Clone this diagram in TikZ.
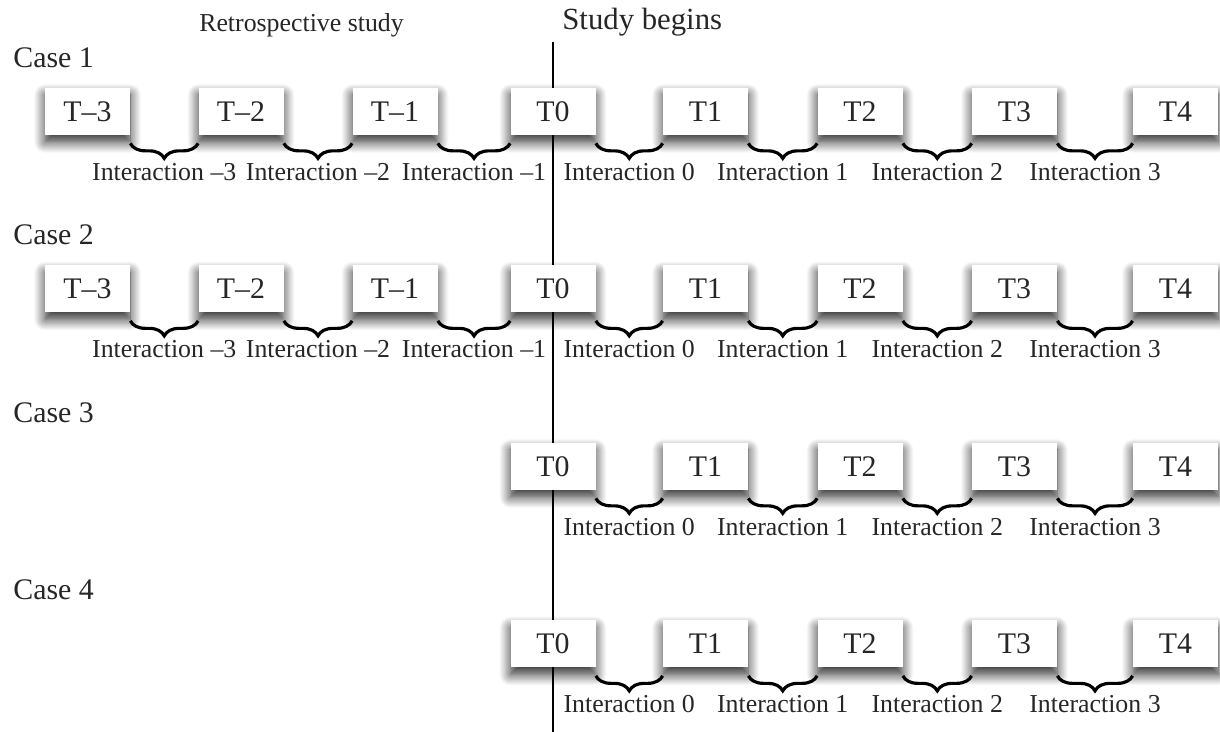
\documentclass[tikz,border=0pt]{standalone}
\usepackage{fontspec}
\setmainfont{Liberation Serif}
\usetikzlibrary{decorations.pathreplacing, shadows.blur}

\tikzset{
    tbox/.style={fill=white, minimum width=1.7cm, minimum height=0.94cm, inner sep=0pt,
        font=\fontsize{17}{20}\selectfont,
        blur shadow={shadow xshift=0pt, shadow yshift=-0.14cm, shadow blur radius=0.22cm, shadow opacity=85, shadow blur steps=12}},
    caselabel/.style={anchor=west, inner sep=0pt, font=\fontsize{17}{20}\selectfont},
    interlabel/.style={below, inner sep=0pt, yshift=-0.36cm, font=\fontsize{14.7}{17}\selectfont},
    gap brace/.style={decorate, decoration={brace, amplitude=0.3cm, mirror}, line width=1.8pt}
}

\begin{document}
\begin{tikzpicture}[text=black!85]
\useasboundingbox (0,0) rectangle (24.4,14.64);

% Headings
\node[anchor=west, inner sep=0pt, font=\fontsize{17.5}{20}\selectfont] (begins) at (11.24,14.2) {Study begins};
\node[inner sep=0pt, font=\fontsize{14.7}{17}\selectfont] (retro) at (6.03,14.14) {Retrospective study};

% Start of the study
\coordinate (linetop) at (11.06,13.8);
\coordinate (linebot) at (11.06,0);
\draw[line width=1.1pt] (linetop) -- (linebot);

% Cases: time points and interactions
\foreach \r/\y/\first in {1/12.41/1, 2/8.86/1, 3/5.31/4, 4/1.76/4} {
    \node[caselabel] (case\r) at (0.26,\y+1.08) {Case \r};
    \foreach \k/\x/\lab in {1/1.75/T–3, 2/4.82/T–2, 3/7.9/T–1, 4/11.06/T0,
                            5/14.11/T1, 6/17.2/T2, 7/20.29/T3, 8/23.51/T4} {
        \ifnum\k<\first\else
            \node[tbox] (b\r\k) at (\x,\y) {\lab};
        \fi
    }
    \foreach \k/\lab in {1/–3, 2/–2, 3/–1, 4/0, 5/1, 6/2, 7/3} {
        \ifnum\k<\first\else
            \pgfmathtruncatemacro{\nk}{\k+1}
            \draw[gap brace] ([yshift=-0.16cm]b\r\k.south east) -- node[interlabel] {Interaction \lab} ([yshift=-0.16cm]b\r\nk.south west);
        \fi
    }
}

\end{tikzpicture}
\end{document}
